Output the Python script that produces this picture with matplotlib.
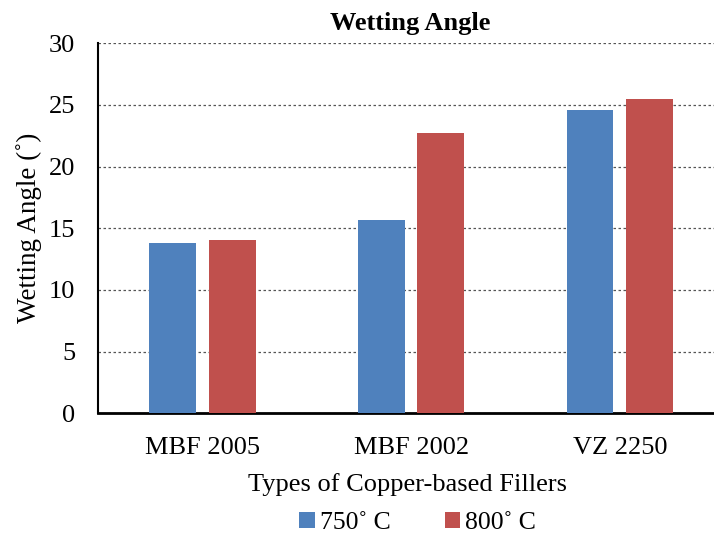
import matplotlib
matplotlib.use("Agg")
import matplotlib.pyplot as plt
import numpy as np

categories = ["MBF 2005", "MBF 2002", "VZ 2250"]
series_names = ["750˚ C", "800˚ C"]
vals_750 = [13.8, 15.7, 24.6]
vals_800 = [14.05, 22.7, 25.5]
colors = ["#4F81BD", "#C0504D"]
yticks = [0, 5, 10, 15, 20, 25, 30]

plt.rcParams['font.family'] = ['Liberation Serif', 'DejaVu Serif']

fig = plt.figure(figsize=(7.14, 5.35), dpi=100)
ax = fig.add_axes([0.1373, 0.2275, 0.8627, 0.6915])

x = np.arange(len(categories))
w = 0.225
off = 0.143
b1 = ax.bar(x - off, vals_750, w, color=colors[0], label=series_names[0], zorder=3)
b2 = ax.bar(x + off, vals_800, w, color=colors[1], label=series_names[1], zorder=3)

ax.set_xlim(-0.5, 2.451)
ax.set_ylim(0, 30)
ax.set_yticks(yticks)
ax.set_yticklabels([str(t) for t in yticks], fontsize=19)
ax.set_xticks(x)
ax.set_xticklabels(categories, fontsize=19)
ax.tick_params(axis='both', length=0)
ax.tick_params(axis='y', pad=16.5)
ax.tick_params(axis='x', pad=17)

ax.yaxis.grid(True, linestyle=(0, (2, 2)), color='#555555', linewidth=0.9, zorder=0)
ax.set_axisbelow(True)
for s in ['top', 'right']:
    ax.spines[s].set_visible(False)
ax.spines['left'].set_linewidth(1.5)
ax.spines['bottom'].set_linewidth(2)
ax.spines['left'].set_color('black')
ax.spines['bottom'].set_color('black')

ax.set_ylabel("Wetting Angle (˚)", fontsize=19.5)
ax.yaxis.set_label_coords(-0.091, 0.5)
fig.text(0.574, 0.957, "Wetting Angle", fontsize=19, fontweight='bold',
         ha='center', va='center')
fig.text(0.5714, 0.0935, "Types of Copper-based Fillers", fontsize=19,
         ha='center', va='center')

fig.legend(handles=[b1, b2], labels=series_names, loc='center',
           bbox_to_anchor=(0.585, 0.022), ncol=2, frameon=False,
           fontsize=18.5, handlelength=0.6, handleheight=0.6,
           handletextpad=0.2, columnspacing=2.1, borderpad=0, borderaxespad=0)

fig.savefig("out.png", dpi=100)
